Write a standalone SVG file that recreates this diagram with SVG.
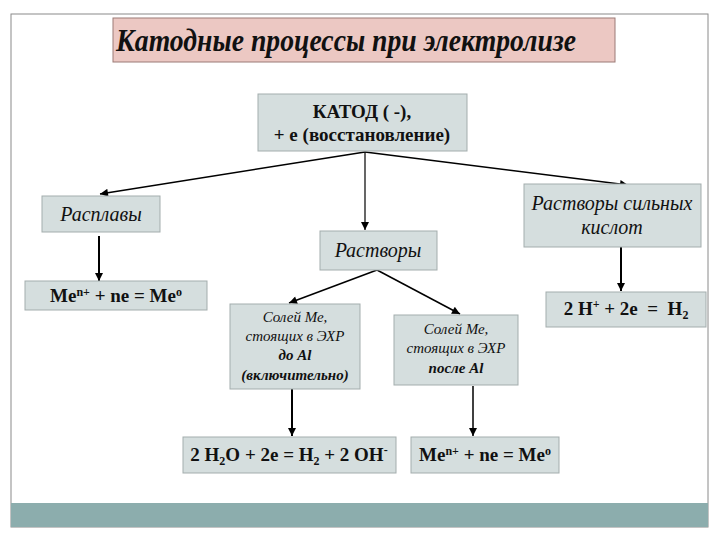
<svg xmlns="http://www.w3.org/2000/svg" width="720" height="540" viewBox="0 0 720 540">
<defs>
<marker id="ah" viewBox="0 0 10 10" refX="10" refY="5" markerUnits="userSpaceOnUse" markerWidth="9" markerHeight="8" orient="auto">
<path d="M0,0 L10,5 L0,10 z" fill="#000"/>
</marker>
</defs>
<rect x="0" y="0" width="720" height="540" fill="#fff"/>
<rect x="11" y="14" width="697" height="513" fill="#fff" stroke="#8a8a8a" stroke-width="1"/>
<rect id="band" x="11" y="503" width="697" height="24" fill="#8CADAD"/>

<g id="title">
<rect x="113" y="18" width="502" height="44" fill="#ECC8C3" stroke="#9B7B76" stroke-width="1"/>
<text x="116" y="51" font-family="Liberation Serif" font-weight="bold" font-style="italic" font-size="31" fill="#111" textLength="460" lengthAdjust="spacingAndGlyphs">Катодные процессы при электролизе</text>
</g>

<g id="connectors" stroke="#000" fill="none" marker-end="url(#ah)">
<line stroke-width="1.5" x1="365" y1="152" x2="100" y2="194"/>
<line stroke-width="1.2" x1="365" y1="152" x2="365" y2="230"/>
<line stroke-width="1.5" x1="365" y1="152" x2="628" y2="185"/>
<line stroke-width="2" x1="99" y1="236" x2="99" y2="281"/>
<line stroke-width="2" x1="621" y1="247" x2="621" y2="291"/>
<line stroke-width="1.5" x1="377" y1="270" x2="289" y2="303"/>
<line stroke-width="1.5" x1="377" y1="270" x2="460" y2="314"/>
<line stroke-width="2" x1="292" y1="389" x2="292" y2="436"/>
<line stroke-width="1.5" x1="473" y1="386" x2="473" y2="436"/>
</g>

<g id="katod">
<rect fill="#D5DEDE" stroke="#A3ADAD" x="258" y="94" width="209" height="57"/>
<text font-family="Liberation Serif" font-weight="bold" font-size="19" fill="#111" x="362" y="118" text-anchor="middle">КАТОД ( -),</text>
<text font-family="Liberation Serif" font-weight="bold" font-size="19" fill="#111" x="362" y="141" text-anchor="middle">+ е (восстановление)</text>
</g>

<g id="rasplavy">
<rect fill="#D5DEDE" stroke="#A3ADAD" x="42" y="196" width="118" height="36"/>
<text font-family="Liberation Serif" font-style="italic" font-size="20" fill="#111" x="101" y="221" text-anchor="middle">Расплавы</text>
</g>

<g id="me1">
<rect fill="#D5DEDE" stroke="#A3ADAD" x="25" y="281" width="182" height="29"/>
<text font-family="Liberation Serif" font-weight="bold" font-size="19" fill="#111" x="116" y="302" text-anchor="middle">Me<tspan font-size="12" dy="-6">n+</tspan><tspan dy="6"> + ne = Me</tspan><tspan font-size="12" dy="-6">o</tspan></text>
</g>

<g id="rastvory">
<rect fill="#D5DEDE" stroke="#A3ADAD" x="320" y="231" width="117" height="39"/>
<text font-family="Liberation Serif" font-style="italic" font-size="20" fill="#111" x="378" y="257" text-anchor="middle">Растворы</text>
</g>

<g id="kisloty">
<rect fill="#D5DEDE" stroke="#A3ADAD" x="524" y="184" width="177" height="63"/>
<text font-family="Liberation Serif" font-style="italic" font-size="20" fill="#111" x="612" y="210" text-anchor="middle">Растворы сильных</text>
<text font-family="Liberation Serif" font-style="italic" font-size="20" fill="#111" x="612" y="234" text-anchor="middle">кислот</text>
</g>

<g id="h2">
<rect fill="#D5DEDE" stroke="#A3ADAD" x="546" y="292" width="160" height="35"/>
<text font-family="Liberation Serif" font-weight="bold" font-size="19" fill="#111" x="626" y="315" text-anchor="middle" xml:space="preserve">2 H<tspan font-size="12" dy="-7">+</tspan><tspan dy="7"> + 2e  =  H</tspan><tspan font-size="12" dy="4">2</tspan></text>
</g>

<g id="do_al">
<rect fill="#D5DEDE" stroke="#A3ADAD" x="230" y="304" width="130" height="85"/>
<text font-family="Liberation Serif" font-style="italic" font-size="15" fill="#111" x="295" y="322" text-anchor="middle">Солей Ме,</text>
<text font-family="Liberation Serif" font-style="italic" font-size="15" fill="#111" x="295" y="341" text-anchor="middle">стоящих в ЭХР</text>
<text font-family="Liberation Serif" font-style="italic" font-weight="bold" font-size="15" fill="#111" x="295" y="360" text-anchor="middle">до Al</text>
<text font-family="Liberation Serif" font-style="italic" font-weight="bold" font-size="15" fill="#111" x="295" y="380" text-anchor="middle">(включительно)</text>
</g>

<g id="posle_al">
<rect fill="#D5DEDE" stroke="#A3ADAD" x="394" y="315" width="124" height="70"/>
<text font-family="Liberation Serif" font-style="italic" font-size="15" fill="#111" x="456" y="334" text-anchor="middle">Солей Ме,</text>
<text font-family="Liberation Serif" font-style="italic" font-size="15" fill="#111" x="456" y="353" text-anchor="middle">стоящих в ЭХР</text>
<text font-family="Liberation Serif" font-style="italic" font-weight="bold" font-size="15" fill="#111" x="456" y="373" text-anchor="middle">после Al</text>
</g>

<g id="h2o">
<rect fill="#D5DEDE" stroke="#A3ADAD" x="183" y="437" width="213" height="36"/>
<text font-family="Liberation Serif" font-weight="bold" font-size="19" fill="#111" x="289" y="461" text-anchor="middle">2 H<tspan font-size="12" dy="4">2</tspan><tspan dy="-4">O + 2e = H</tspan><tspan font-size="12" dy="4">2</tspan><tspan dy="-4"> + 2 OH</tspan><tspan font-size="12" dy="-7">-</tspan></text>
</g>

<g id="me2">
<rect fill="#D5DEDE" stroke="#A3ADAD" x="411" y="437" width="148" height="36"/>
<text font-family="Liberation Serif" font-weight="bold" font-size="19" fill="#111" x="485" y="461" text-anchor="middle">Me<tspan font-size="12" dy="-6">n+</tspan><tspan dy="6"> + ne = Me</tspan><tspan font-size="12" dy="-6">o</tspan></text>
</g>
</svg>
